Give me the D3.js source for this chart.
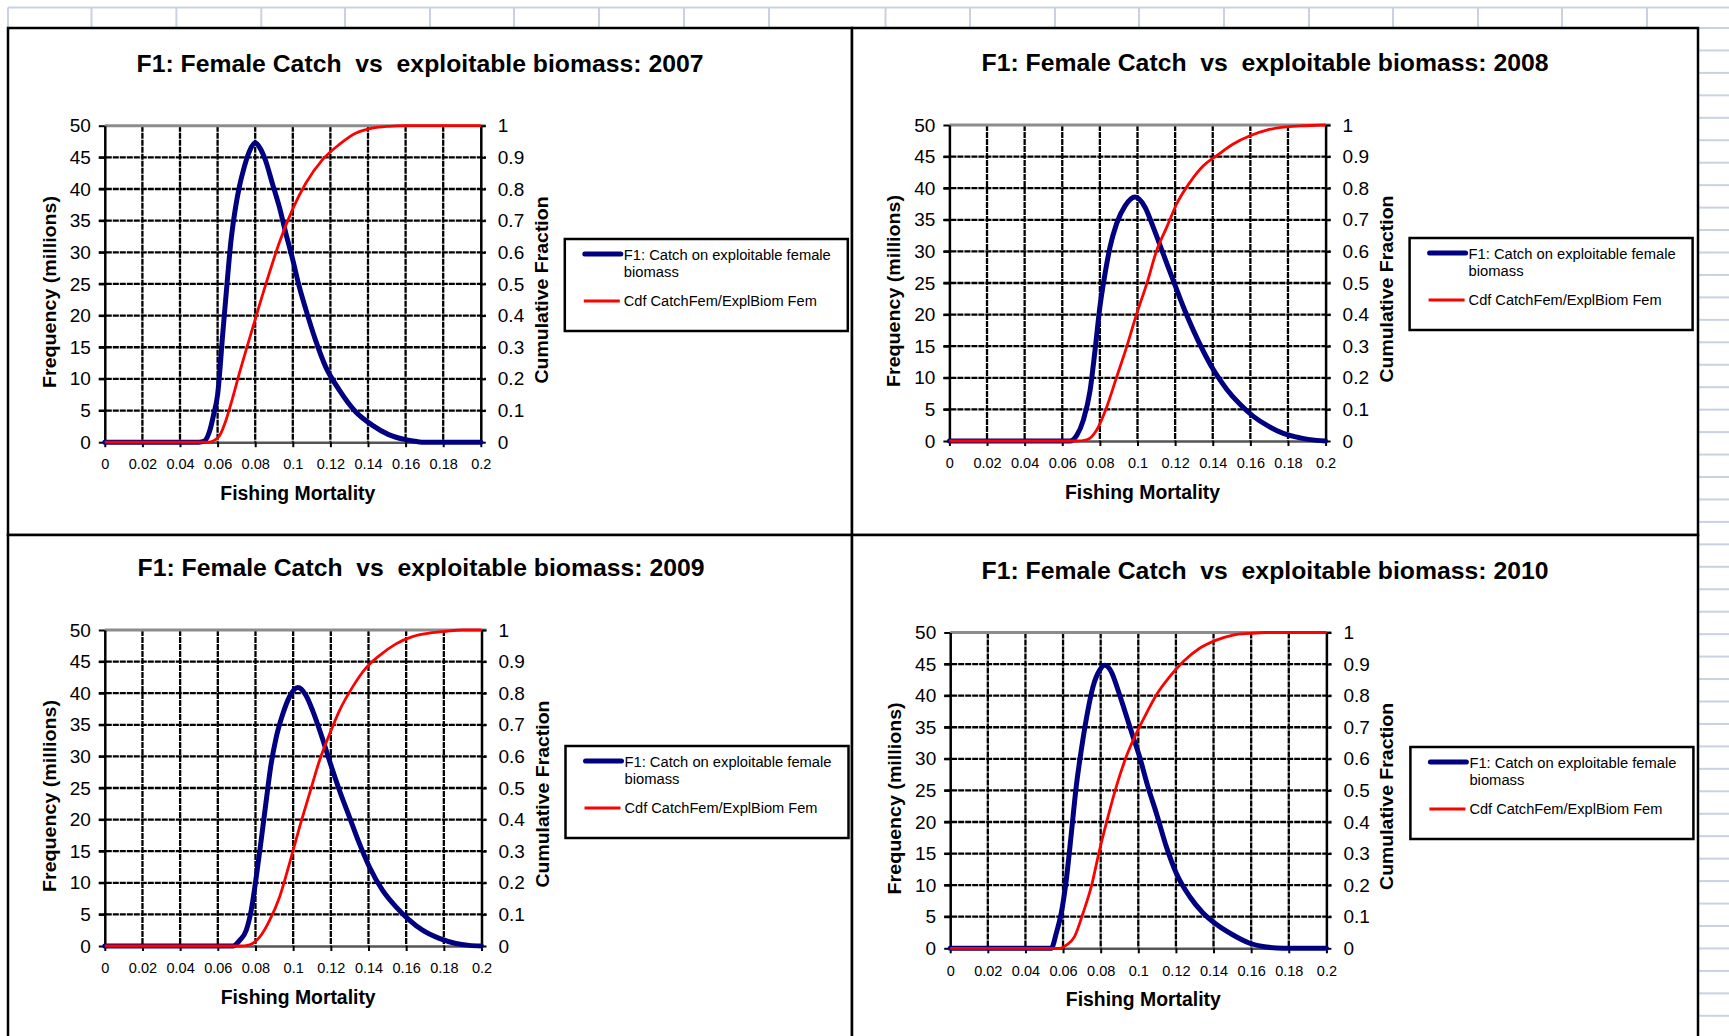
<!DOCTYPE html>
<html>
<head>
<meta charset="utf-8">
<script src="https://cdn.jsdelivr.net/npm/d3@7"></script>
<style>
  html, body { margin: 0; padding: 0; background: #ffffff; }
  svg { display: block; }
</style>
</head>
<body>
<svg id="chart" width="1729" height="1036"></svg>
<script>
// ---------------- DATA ----------------
const years = ["2007", "2008", "2009", "2010"];
const titlePrefix = "F1: Female Catch  vs  exploitable biomass: ";
const xTitle = "Fishing Mortality";
const yLeftTitle = "Frequency (millions)";
const yRightTitle = "Cumulative Fraction";
const legendBlue = ["F1: Catch on exploitable female", "biomass"];
const legendRed = "Cdf CatchFem/ExplBiom Fem";

const xTicks = [0, 0.02, 0.04, 0.06, 0.08, 0.1, 0.12, 0.14, 0.16, 0.18, 0.2];
const xTickLabels = ["0", "0.02", "0.04", "0.06", "0.08", "0.1", "0.12", "0.14", "0.16", "0.18", "0.2"];
const freqTicks = [0, 5, 10, 15, 20, 25, 30, 35, 40, 45, 50];
const freqTickLabels = ["0", "5", "10", "15", "20", "25", "30", "35", "40", "45", "50"];
const cdfTicks = [0, 0.1, 0.2, 0.3, 0.4, 0.5, 0.6, 0.7, 0.8, 0.9, 1];
const cdfTickLabels = ["0", "0.1", "0.2", "0.3", "0.4", "0.5", "0.6", "0.7", "0.8", "0.9", "1"];

// [fishing mortality, frequency (millions)]
const freq2007 = [[0,0],[0.05,0],[0.053,0.2],[0.056,2],[0.058,4.5],[0.06,7.5],[0.0627,17],[0.065,25],[0.067,31.5],[0.0695,37],[0.0716,40.4],[0.0742,43.5],[0.077,46],[0.08,47.3],[0.0825,46.5],[0.0855,44.5],[0.089,41],[0.0928,37.2],[0.0963,33],[0.1,28.8],[0.1034,24.6],[0.107,20.9],[0.112,16.2],[0.1175,11.9],[0.1246,8.3],[0.1334,4.8],[0.1422,2.7],[0.151,1.2],[0.16,0.4],[0.166,0.1],[0.17,0],[0.2,0]];
const freq2008 = [[0,0],[0.064,0],[0.0677,0.9],[0.0712,3.3],[0.0748,8],[0.0774,14.3],[0.08,21.2],[0.0827,26.4],[0.0854,30.7],[0.0889,34.4],[0.0934,37.2],[0.0987,38.6],[0.104,37],[0.1084,33.8],[0.1137,29.6],[0.119,25.4],[0.1244,21.2],[0.1297,17.5],[0.135,14.2],[0.1403,11.3],[0.1474,8.2],[0.1545,5.8],[0.1616,3.9],[0.1687,2.5],[0.1775,1.2],[0.1864,0.5],[0.1953,0.1],[0.2,0]];
const freq2009 = [[0,0],[0.068,0],[0.0716,0.9],[0.0751,2.5],[0.0777,5.6],[0.0804,10.9],[0.083,16.7],[0.0857,23],[0.0883,28.8],[0.091,33],[0.0945,36.7],[0.098,39.4],[0.1025,40.9],[0.1069,39.6],[0.1104,37.2],[0.1148,33.5],[0.1193,29.3],[0.1246,24.6],[0.1299,20.4],[0.1352,16.2],[0.1405,12.5],[0.1475,8.8],[0.1546,6.2],[0.1617,4.1],[0.1687,2.5],[0.1776,1.2],[0.1864,0.4],[0.1935,0.1],[0.2,0]];
const freq2010 = [[0,0],[0.0537,0],[0.0564,2.4],[0.059,5.5],[0.0617,10.8],[0.0644,18.2],[0.067,25.6],[0.0697,31.4],[0.0723,36.2],[0.0759,41.4],[0.0794,44],[0.0821,44.8],[0.0856,43.8],[0.0892,40.9],[0.0927,37.7],[0.0972,33.5],[0.1007,30.3],[0.1051,25.6],[0.1096,21.4],[0.1149,16.1],[0.1202,11.9],[0.1273,8.2],[0.1344,5.6],[0.1415,3.8],[0.1504,2.1],[0.1592,0.8],[0.1681,0.2],[0.177,0],[0.2,0]];

// [fishing mortality, cumulative fraction]
const cdf2007 = [[0,0],[0.055,0],[0.058,0.005],[0.061,0.02],[0.0645,0.07],[0.068,0.14],[0.0716,0.218],[0.0786,0.36],[0.0857,0.5],[0.0928,0.63],[0.0998,0.735],[0.1069,0.818],[0.1157,0.892],[0.1246,0.94],[0.1334,0.976],[0.1422,0.992],[0.151,0.998],[0.16,1],[0.2,1]];
const cdf2008 = [[0,0],[0.0677,0],[0.073,0.004],[0.0783,0.035],[0.0836,0.107],[0.0889,0.202],[0.0942,0.297],[0.0996,0.403],[0.1049,0.497],[0.1102,0.603],[0.1155,0.676],[0.1208,0.75],[0.1279,0.819],[0.135,0.871],[0.1421,0.903],[0.1509,0.94],[0.1598,0.966],[0.1687,0.984],[0.1775,0.993],[0.1864,0.997],[0.2,1]];
const cdf2009 = [[0,0],[0.0716,0],[0.0769,0.004],[0.0822,0.028],[0.0875,0.081],[0.0928,0.155],[0.098,0.26],[0.1034,0.376],[0.1087,0.482],[0.114,0.587],[0.1193,0.67],[0.1246,0.745],[0.1316,0.82],[0.1387,0.88],[0.1458,0.919],[0.1546,0.956],[0.1634,0.979],[0.1723,0.99],[0.1811,0.996],[0.19,1],[0.2,1]];
const cdf2010 = [[0,0],[0.0582,0],[0.0617,0.01],[0.0661,0.037],[0.0706,0.111],[0.075,0.195],[0.0794,0.311],[0.0839,0.417],[0.0883,0.512],[0.0936,0.607],[0.0989,0.68],[0.1043,0.744],[0.1096,0.802],[0.1167,0.86],[0.1238,0.907],[0.1326,0.95],[0.1415,0.976],[0.1504,0.992],[0.1592,0.997],[0.168,1],[0.2,1]];

const freqSeries = [freq2007, freq2008, freq2009, freq2010];
const cdfSeries = [cdf2007, cdf2008, cdf2009, cdf2010];

// ---------------- LAYOUT ----------------
const W = 1729, H = 1036;
const sheetLine = "#c9d2e3";
const blue = "#000080", red = "#ff0000";
const sansFont = "'Liberation Sans', Arial, Helvetica, sans-serif";
const narrowFont = "'Liberation Sans Narrow', 'Arial Narrow', 'Liberation Sans', Arial, sans-serif";

const panelRects = [
  { x: 8, y: 28, w: 844, h: 507 },
  { x: 852, y: 28, w: 846, h: 507 },
  { x: 8, y: 535, w: 844, h: 520 },
  { x: 852, y: 535, w: 846, h: 520 }
];
const plotBoxes = [
  { x0: 104.8, x1: 480.8, yTop: 125.7, yBot: 442.2, titleX: 420, titleY: 71.5, legendY: 239 },
  { x0: 949.4, x1: 1325.6, yTop: 125, yBot: 441, titleX: 1265, titleY: 70.5, legendY: 238 },
  { x0: 104.8, x1: 481.5, yTop: 630, yBot: 946, titleX: 421, titleY: 575.5, legendY: 746 },
  { x0: 950.2, x1: 1326.4, yTop: 632.5, yBot: 948.3, titleX: 1265, titleY: 579, legendY: 747 }
];

const svg = d3.select("#chart");
svg.append("rect").attr("width", W).attr("height", H).attr("fill", "#fff");

// spreadsheet background lines
const sheet = svg.append("g");
sheet.append("line").attr("x1", 8).attr("x2", W).attr("y1", 7.5).attr("y2", 7.5)
  .attr("stroke", sheetLine).attr("stroke-width", 2);
const colEdges = [8, 91.5, 176.4, 261.3, 345, 430, 514, 599, 684, 769, 885.5, 970, 1055, 1139, 1224, 1309, 1393, 1478, 1562, 1647];
sheet.selectAll("line.col").data(colEdges).join("line")
  .attr("x1", d => d).attr("x2", d => d).attr("y1", 7.5).attr("y2", 28)
  .attr("stroke", sheetLine).attr("stroke-width", 2);
sheet.selectAll("line.row").data(d3.range(28, H, 22.45)).join("line")
  .attr("x1", 1698).attr("x2", W).attr("y1", d => d).attr("y2", d => d)
  .attr("stroke", sheetLine).attr("stroke-width", 2);

// panels
years.forEach((yr, i) => {
  const pr = panelRects[i], pb = plotBoxes[i];
  const g = svg.append("g");
  g.append("rect").attr("x", pr.x).attr("y", pr.y).attr("width", pr.w).attr("height", pr.h)
    .attr("fill", "#fff").attr("stroke", "#000").attr("stroke-width", 2.5);

  const x = d3.scaleLinear().domain([0, 0.2]).range([pb.x0, pb.x1]);
  const yL = d3.scaleLinear().domain([0, 50]).range([pb.yBot, pb.yTop]);
  const yR = d3.scaleLinear().domain([0, 1]).range([pb.yBot, pb.yTop]);

  // title
  g.append("text").attr("x", pb.titleX).attr("y", pb.titleY)
    .attr("text-anchor", "middle").style("white-space", "pre")
    .attr("font-family", narrowFont).attr("font-weight", "bold").attr("font-size", 24)
    .attr("textLength", 567).attr("lengthAdjust", "spacingAndGlyphs")
    .text(titlePrefix + yr);

  // gridlines
  const grid = g.append("g");
  grid.selectAll("line.h").data(freqTicks.filter(v => v > 0 && v < 50)).join("line")
    .attr("x1", pb.x0 - 6).attr("x2", pb.x1 + 5)
    .attr("y1", d => yL(d)).attr("y2", d => yL(d))
    .attr("stroke", "#000").attr("stroke-width", 2.3).attr("stroke-dasharray", "6,1");
  grid.selectAll("line.v").data(xTicks.filter(v => v > 0 && v < 0.2)).join("line")
    .attr("x1", d => x(d)).attr("x2", d => x(d))
    .attr("y1", pb.yTop).attr("y2", pb.yBot)
    .attr("stroke", "#000").attr("stroke-width", 2.3).attr("stroke-dasharray", "6,1");
  grid.append("line").attr("x1", pb.x0).attr("x2", pb.x1 + 5)
    .attr("y1", yL(50)).attr("y2", yL(50))
    .attr("stroke", "#8c8c8c").attr("stroke-width", 3);

  // axes
  const axL = g.append("g").attr("transform", `translate(${pb.x0},0)`)
    .call(d3.axisLeft(yL).tickValues(freqTicks).tickFormat((d, k) => freqTickLabels[k]).tickSize(6).tickPadding(8).tickSizeOuter(0));
  const axR = g.append("g").attr("transform", `translate(${pb.x1},0)`)
    .call(d3.axisRight(yR).tickValues(cdfTicks).tickFormat((d, k) => cdfTickLabels[k]).tickSize(5).tickPadding(12).tickSizeOuter(0));
  const axB = g.append("g").attr("transform", `translate(0,${pb.yBot})`)
    .call(d3.axisBottom(x).tickValues(xTicks).tickFormat((d, k) => xTickLabels[k]).tickSize(5).tickPadding(12).tickSizeOuter(0));
  [axL, axR].forEach(a => {
    a.select(".domain").attr("stroke", "#000").attr("stroke-width", 2.5);
    a.selectAll(".tick line").attr("stroke", "#000").attr("stroke-width", 2);
    a.selectAll(".tick text").attr("font-family", sansFont).attr("font-size", 19).attr("fill", "#000");
  });
  axB.select(".domain").attr("stroke", "#555").attr("stroke-width", 2.5);
  axB.selectAll(".tick line").attr("stroke", "#000").attr("stroke-width", 2);
  axB.selectAll(".tick text").attr("font-family", sansFont).attr("font-size", 14.5).attr("fill", "#000");

  // axis titles
  const midY = (pb.yTop + pb.yBot) / 2;
  g.append("text").attr("transform", `translate(${pb.x0 - 49},${midY + 8}) rotate(-90)`)
    .attr("text-anchor", "middle").attr("font-family", sansFont).attr("font-weight", "bold")
    .attr("font-size", 18.5).attr("textLength", 192).attr("lengthAdjust", "spacingAndGlyphs")
    .text(yLeftTitle);
  g.append("text").attr("transform", `translate(${pb.x1 + 67},${midY + 6}) rotate(-90)`)
    .attr("text-anchor", "middle").attr("font-family", sansFont).attr("font-weight", "bold")
    .attr("font-size", 18.5).attr("textLength", 187).attr("lengthAdjust", "spacingAndGlyphs")
    .text(yRightTitle);
  g.append("text").attr("x", (pb.x0 + pb.x1) / 2 + 5).attr("y", pb.yBot + 58)
    .attr("text-anchor", "middle").attr("font-family", narrowFont).attr("font-weight", "bold")
    .attr("font-size", 20).attr("textLength", 155).attr("lengthAdjust", "spacingAndGlyphs")
    .text(xTitle);

  // series
  const clipId = "clip" + yr;
  g.append("clipPath").attr("id", clipId).append("rect")
    .attr("x", pb.x0 - 5).attr("y", pb.yTop - 5).attr("width", pb.x1 - pb.x0 + 10).attr("height", pb.yBot - pb.yTop + 10);
  const lineF = d3.line().x(d => x(d[0])).y(d => yL(d[1])).curve(d3.curveMonotoneX);
  const lineC = d3.line().x(d => x(d[0])).y(d => yR(d[1])).curve(d3.curveMonotoneX);
  const series = g.append("g").attr("clip-path", `url(#${clipId})`);
  series.append("path").datum(freqSeries[i]).attr("d", lineF)
    .attr("fill", "none").attr("stroke", blue).attr("stroke-width", 5)
    .attr("stroke-linejoin", "round").attr("stroke-linecap", "round");
  series.append("path").datum(cdfSeries[i]).attr("d", lineC)
    .attr("fill", "none").attr("stroke", red).attr("stroke-width", 2.8)
    .attr("stroke-linejoin", "round");

  // legend
  const lx = pb.x1 + 84, ly = pb.legendY;
  const lg = g.append("g");
  lg.append("rect").attr("x", lx).attr("y", ly).attr("width", 283).attr("height", 92)
    .attr("fill", "#fff").attr("stroke", "#000").attr("stroke-width", 2.5);
  lg.append("line").attr("x1", lx + 20).attr("x2", lx + 56).attr("y1", ly + 15).attr("y2", ly + 15)
    .attr("stroke", blue).attr("stroke-width", 5).attr("stroke-linecap", "round");
  lg.append("text").attr("x", lx + 59).attr("y", ly + 20.5)
    .attr("font-family", sansFont).attr("font-size", 14)
    .attr("textLength", 207).attr("lengthAdjust", "spacingAndGlyphs").text(legendBlue[0]);
  lg.append("text").attr("x", lx + 59).attr("y", ly + 38)
    .attr("font-family", sansFont).attr("font-size", 14)
    .attr("textLength", 55).attr("lengthAdjust", "spacingAndGlyphs").text(legendBlue[1]);
  lg.append("line").attr("x1", lx + 19).attr("x2", lx + 55).attr("y1", ly + 62).attr("y2", ly + 62)
    .attr("stroke", red).attr("stroke-width", 2.8);
  lg.append("text").attr("x", lx + 59).attr("y", ly + 67)
    .attr("font-family", sansFont).attr("font-size", 14)
    .attr("textLength", 193).attr("lengthAdjust", "spacingAndGlyphs").text(legendRed);
});
</script>
</body>
</html>
